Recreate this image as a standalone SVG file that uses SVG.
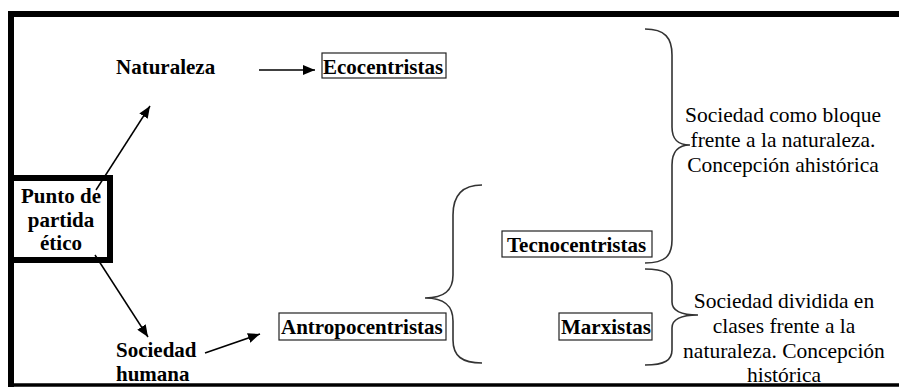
<svg xmlns="http://www.w3.org/2000/svg" width="899" height="387" viewBox="0 0 899 387">
<defs>
<marker id="ah" viewBox="0 0 12 10" refX="12" refY="5" markerWidth="12" markerHeight="10" markerUnits="userSpaceOnUse" orient="auto">
<path d="M0,0 L12,5 L0,10 Z" fill="#000"/>
</marker>
<style>
.b{font-weight:bold;font-size:21px;fill:#000}
.r{font-size:21.5px;fill:#000;text-anchor:middle}
.box{fill:none;stroke:#222;stroke-width:1.2}
.arr{stroke:#000;stroke-width:1.5;fill:none;marker-end:url(#ah)}
.br{stroke:#333;stroke-width:1.6;fill:none}
</style>
</defs>
<rect width="899" height="387" fill="#fff"/>
<g id="frame">
<line x1="8" y1="14" x2="899" y2="14" stroke="#000" stroke-width="6"/>
<line x1="11" y1="11" x2="11" y2="387" stroke="#000" stroke-width="6"/>
<line x1="8" y1="385" x2="899" y2="385" stroke="#000" stroke-width="3.5"/>
</g>
<g id="punto">
<rect x="11" y="178" width="99" height="82" fill="none" stroke="#000" stroke-width="6"/>
<text class="b" font-family="Liberation Serif" text-anchor="middle"><tspan x="61" y="203">Punto de</tspan><tspan x="61" y="227">partida</tspan><tspan x="61" y="250">ético</tspan></text>
</g>
<g id="naturaleza">
<text class="b" font-family="Liberation Serif" x="116" y="74">Naturaleza</text>
</g>
<g id="sociedad">
<text class="b" font-family="Liberation Serif"><tspan x="116" y="357">Sociedad</tspan><tspan x="116" y="381">humana</tspan></text>
</g>
<g id="ecocentristas">
<rect class="box" x="322" y="53" width="124" height="25"/>
<text class="b" font-family="Liberation Serif" x="323" y="74">Ecocentristas</text>
</g>
<g id="antropocentristas">
<rect class="box" x="279" y="313" width="167" height="27"/>
<text class="b" font-family="Liberation Serif" x="281" y="334">Antropocentristas</text>
</g>
<g id="tecnocentristas">
<rect class="box" x="502" y="231" width="150" height="26"/>
<text class="b" font-family="Liberation Serif" x="507" y="252">Tecnocentristas</text>
</g>
<g id="marxistas">
<rect class="box" x="559" y="313" width="93" height="27"/>
<text class="b" font-family="Liberation Serif" x="561" y="334">Marxistas</text>
</g>
<g id="nota1">
<text class="r" font-family="Liberation Serif"><tspan x="783" y="122">Sociedad como bloque</tspan><tspan x="783" y="147">frente a la naturaleza.</tspan><tspan x="783" y="172">Concepción ahistórica</tspan></text>
</g>
<g id="nota2">
<text class="r" font-family="Liberation Serif"><tspan x="784" y="308">Sociedad dividida en</tspan><tspan x="784" y="333">clases frente a la</tspan><tspan x="784" y="358">naturaleza. Concepción</tspan><tspan x="784" y="382">histórica</tspan></text>
</g>
<g id="connectors">
<line class="arr" x1="96" y1="190" x2="150" y2="106"/>
<line class="arr" x1="95" y1="255" x2="148" y2="337"/>
<line class="arr" x1="259" y1="70" x2="315" y2="70"/>
<line class="arr" x1="205" y1="353" x2="260" y2="334"/>
<path class="br" d="M482,185 C462,185 453,195 453,215 L453,275 C453,290 445,298 425,298 C445,298 453,306 453,321 L453,340 C453,356 462,363 482,363"/>
<path class="br" d="M645,29 C665,29 672,38 672,55 L672,127 C672,140 678,145 690,145 C678,145 672,152 672,165 L672,240 C672,256 665,263 645,263"/>
<path class="br" d="M645,269 C665,269 672,274 672,285 L672,302 C672,311 682,315 698,315 C682,315 672,319 672,328 L672,350 C672,360 665,365 645,365"/>
</g>
</svg>
